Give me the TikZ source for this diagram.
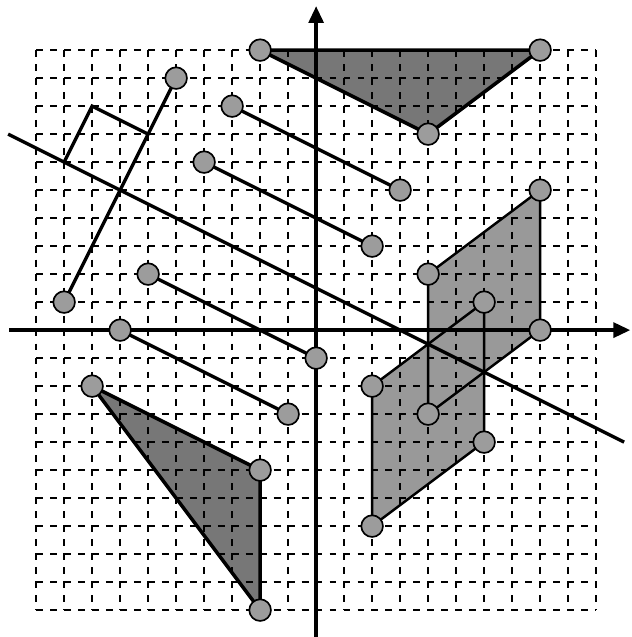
\documentclass[tikz,border=0pt]{standalone}
\usepackage{tikz}
\usetikzlibrary{arrows.meta}
\definecolor{rfInk}{HTML}{000000}
\definecolor{rfDark}{HTML}{777777}
\definecolor{rfLight}{HTML}{999999}
\definecolor{rfDot}{HTML}{9C9C9C}
\tikzset{
  gridln/.style  ={rfInk,line width=1.3pt,dash pattern=on 7pt off 7.2pt},
  axisln/.style  ={-{Triangle[length=6mm,width=5.3mm]},rfInk,line width=3.4pt},
  mirror/.style  ={rfInk,line width=3.4pt},
  seg/.style     ={rfInk,line width=3.4pt},
  triedge/.style ={rfInk,line width=3.6pt,line join=round},
  parfill/.style ={fill=rfLight},
  paredge/.style ={rfInk,line width=2.5pt},
  trifill/.style ={fill=rfDark},
  dot/.style     ={circle,draw=rfInk,fill=rfDot,line width=1.7pt,
                   minimum size=22pt,inner sep=0pt},
}

\begin{document}
\begin{tikzpicture}
\useasboundingbox (-11.29,-10.96) rectangle (11.25,11.79);
%% points and their mirror images in x+2y=3
\coordinate (ta) at (-2,10);  \coordinate (tb) at (8,10);  \coordinate (tc) at (4,7);
\coordinate (ra) at (-8,-2);  \coordinate (rb) at (-2,-10); \coordinate (rc) at (-2,-5);
\coordinate (pa) at (4,2);    \coordinate (pb) at (8,5);   \coordinate (pc) at (8,0);   \coordinate (pd) at (4,-3);
\coordinate (qa) at (2,-2);   \coordinate (qb) at (2,-7);  \coordinate (qc) at (6,-4);  \coordinate (qd) at (6,1);
\coordinate (sa) at (-3,8);   \coordinate (sb) at (3,5);
\coordinate (ua) at (-7,0);   \coordinate (ub) at (-1,-3);
\coordinate (sc) at (-4,6);   \coordinate (sd) at (2,3);
\coordinate (uc) at (-6,2);   \coordinate (ud) at (0,-1);
\coordinate (pp) at (-9,1);   \coordinate (pq) at (-5,9);
\coordinate (m1) at (-9,6);   \coordinate (m2) at (-8,8);  \coordinate (m3) at (-6,7);
\coordinate (ml) at (-11,7);  \coordinate (mr) at (11,-4);
\coordinate (xl) at (-10.96,0); \coordinate (xr) at (11.22,0);
\coordinate (yb) at (0,-10.96); \coordinate (yt) at (0,11.57);

%% fills first, grid over them
\fill[trifill] (ta) -- (tb) -- (tc) -- cycle;
\fill[trifill] (ra) -- (rc) -- (rb) -- cycle;
\fill[parfill] (pa) -- (pb) -- (pc) -- (pd) -- cycle;
\fill[parfill] (qa) -- (qd) -- (qc) -- (qb) -- cycle;
\foreach \i in {-10,...,10} {
  \draw[gridln] (-10,\i) -- (10,\i);
  \draw[gridln] (\i,10) -- (\i,-10);
}

\draw[paredge] (pa) -- (pb) -- (pc) -- (pd) -- cycle;
\draw[paredge] (qa) -- (qd) -- (qc) -- (qb) -- cycle;
\draw[triedge] (ta) -- (tb) -- (tc) -- cycle;
\draw[triedge] (ra) -- (rc) -- (rb) -- cycle;
\draw[seg] (sa) -- (sb);
\draw[seg] (sc) -- (sd);
\draw[seg] (ua) -- (ub);
\draw[seg] (uc) -- (ud);
\draw[seg] (pp) -- (pq);
\draw[seg] (m1) -- (m2) -- (m3);
\draw[mirror] (ml) -- (mr);
\draw[axisln] (xl) -- (xr);
\draw[axisln] (yb) -- (yt);

\foreach \p in {ta,tb,tc,ra,rb,rc,pa,pb,pc,pd,qa,qb,qc,qd,sa,sb,sc,sd,ua,ub,uc,ud,pp,pq}
  \node[dot] (d-\p) at (\p) {};
\end{tikzpicture}
\end{document}
